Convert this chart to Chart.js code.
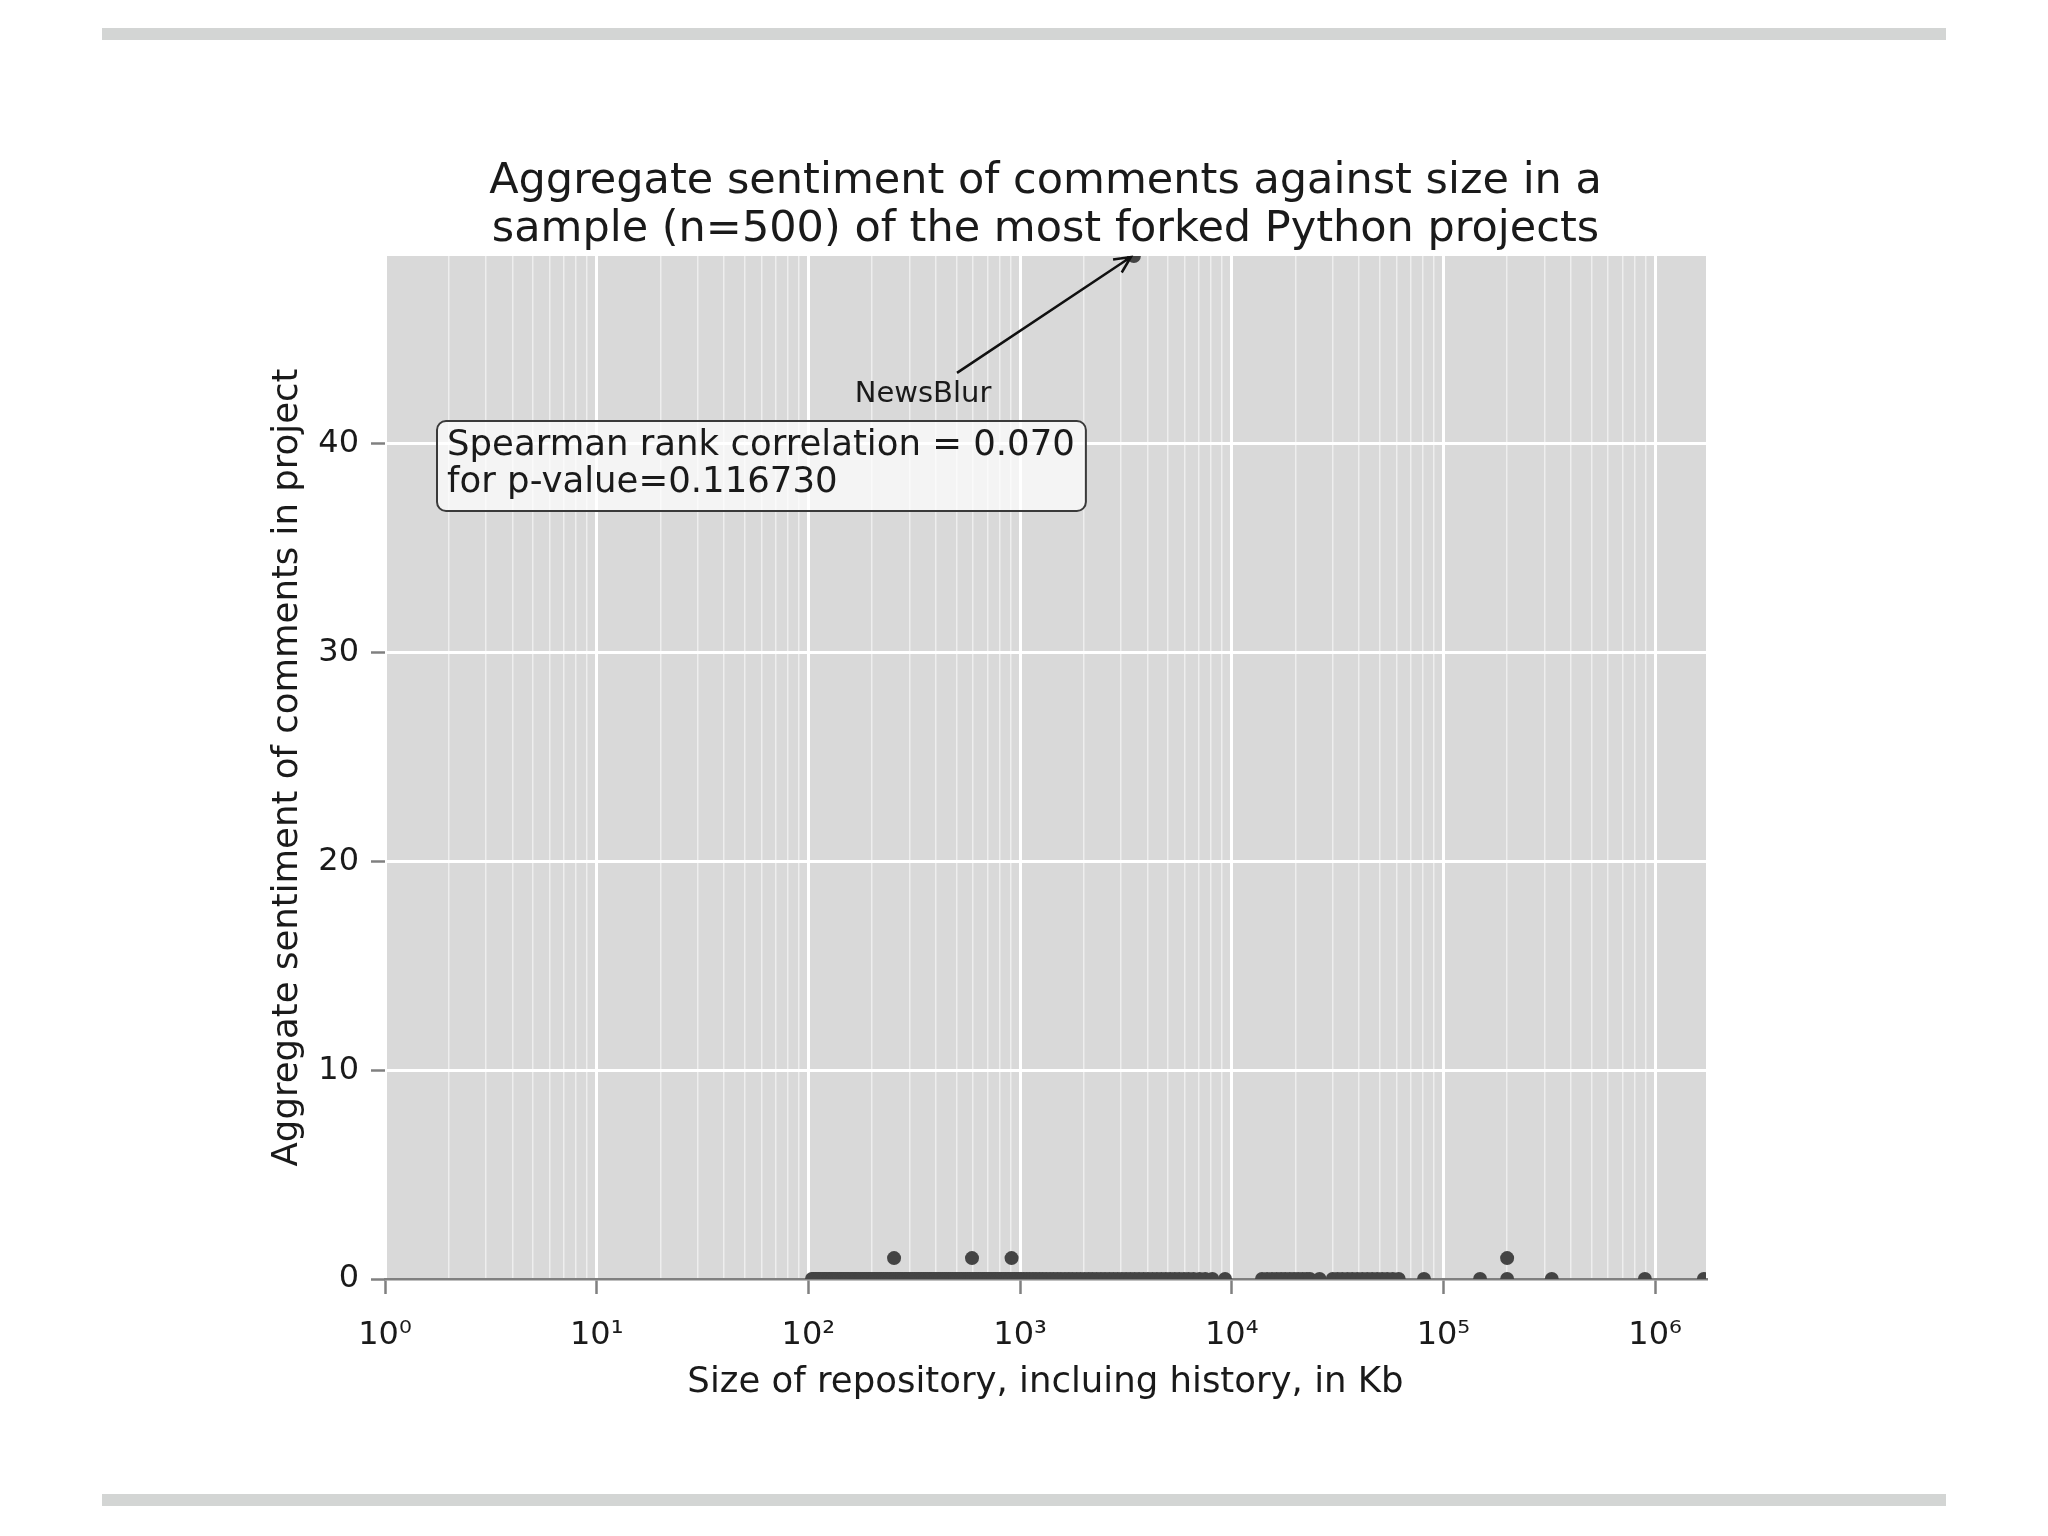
<!DOCTYPE html>
<html><head><meta charset="utf-8">
<script src="https://cdn.jsdelivr.net/npm/chart.js@4.4.0/dist/chart.umd.min.js"></script>
<style>
html,body{margin:0;padding:0;background:#fff;}
#wrap{position:relative;width:2048px;height:1536px;overflow:hidden;}
.bar{position:absolute;left:102px;width:1844px;height:12px;background:#d3d5d4;}
canvas{position:absolute;left:0;top:0;}
</style></head><body>
<div id="wrap">
<div class="bar" style="top:28px"></div>
<div class="bar" style="top:1494px"></div>
<canvas id="c" width="2048" height="1536"></canvas>
</div>
<script>
// ---------- text ----------
const titleLines = ['Aggregate sentiment of comments against size in a', 'sample (n=500) of the most forked Python projects'];
const xAxisLabel = 'Size of repository, incluing history, in Kb';
const yAxisLabel = 'Aggregate sentiment of comments in project';
const statsLines = ['Spearman rank correlation = 0.070', 'for p-value=0.116730'];

// ---------- ticks ----------
const xMajorTicks = [1, 10, 100, 1000, 10000, 100000, 1000000];
const xTickLabels = ['10\u2070', '10\u00B9', '10\u00B2', '10\u00B3', '10\u2074', '10\u2075', '10\u2076'];
const yTicks = [0, 10, 20, 30, 40];

// ---------- data (size in Kb) ----------
const outlierName = 'NewsBlur';
const outlierSize = [3450];
const outlierSentiment = [49];
const outlierLabelPos = [348, 42.35];

const sizesSentimentOne = [254, 593, 912, 200000];

const sizesSentimentZero = [
  104, 106, 108, 110, 112, 114, 117, 119, 121, 124, 126, 129, 131, 134, 137, 140, 143, 146, 149, 152,
  155, 159, 162, 166, 169, 173, 177, 181, 185, 189, 193, 197, 202, 206, 211, 216, 221, 226, 231, 236,
  242, 247, 253, 259, 265, 271, 277, 284, 290, 297, 304, 311, 318, 326, 333, 341, 349, 357, 365, 374,
  382, 391, 400, 410, 419, 429, 439, 449, 460, 470, 481, 493, 504, 516, 528, 540, 553, 566, 579, 592,
  606, 620, 635, 649, 665, 680, 696, 712, 729, 746, 763, 781, 799, 818, 837, 856, 876, 897, 918, 939,
  961, 984, 1010, 1040, 1075, 1110, 1150, 1190, 1235, 1280, 1330, 1385, 1440, 1500, 1560, 1630, 1700,
  1770, 1850, 1930, 2020, 2110, 2200, 2300, 2410, 2520, 2640, 2760, 2890, 3030, 3170, 3320, 3480, 3650,
  3830, 4020, 4220, 4430, 4650, 4880, 5120, 5380, 5650, 5950, 6250, 6600, 7050, 7500, 8100, 9300,
  13900, 14700, 15500, 16300, 17100, 17900, 18800, 19700, 20600, 21600, 22600, 23400,
  26000, 30000, 31600, 33300, 35200, 37100, 39200, 41400, 43700, 46100, 48700, 51400, 54300, 57600, 61500,
  81000, 149000, 200000, 325000, 895000, 1700000
];

const pointData = []
  .concat(sizesSentimentZero.map(s => ({ x: s, y: 0 })))
  .concat(sizesSentimentOne.map(s => ({ x: s, y: 1 })))
  .concat(outlierSize.map((s, i) => ({ x: s, y: outlierSentiment[i] })));

const FONT = "'DejaVu Sans', sans-serif";
const isMajor = v => xMajorTicks.indexOf(v) !== -1;

const decorPlugin = {
  id: 'decor',
  beforeDraw(chart) {
    const { ctx, chartArea: a } = chart;
    ctx.save();
    ctx.fillStyle = '#d9d9d9';
    ctx.fillRect(a.left, a.top, a.right - a.left, a.bottom - a.top);
    ctx.restore();
  },
  afterDraw(chart) {
    const { ctx, chartArea: a, scales } = chart;
    ctx.save();
    // title
    ctx.fillStyle = '#1a1a1a';
    ctx.font = '43px ' + FONT;
    ctx.textAlign = 'center';
    ctx.textBaseline = 'middle';
    const cx = (a.left + a.right) / 2;
    ctx.fillText(titleLines[0], cx, 182);
    ctx.fillText(titleLines[1], cx, 230);

    // stats box
    ctx.font = '35.5px ' + FONT;
    const w = Math.max(...statsLines.map(s => ctx.measureText(s).width));
    const bx = a.left + 52, by = a.top + 165, bw = w + 21, bh = 90;
    ctx.beginPath();
    ctx.roundRect(bx, by, bw, bh, 9);
    ctx.fillStyle = 'rgba(255,255,255,0.7)';
    ctx.fill();
    ctx.lineWidth = 2;
    ctx.strokeStyle = '#3a3a3a';
    ctx.stroke();
    ctx.fillStyle = '#1a1a1a';
    ctx.textAlign = 'left';
    ctx.fillText(statsLines[0], bx + 10, by + 25);
    ctx.fillText(statsLines[1], bx + 10, by + 62);

    // outlier annotation
    const tx = scales.x.getPixelForValue(outlierLabelPos[0]);
    const ty = scales.y.getPixelForValue(outlierLabelPos[1]);
    ctx.font = '29px ' + FONT;
    ctx.textAlign = 'center';
    ctx.fillText(outlierName, tx, ty);
    const px = scales.x.getPixelForValue(outlierSize[0]) - 3;
    const py = scales.y.getPixelForValue(outlierSentiment[0]) + 1;
    const sx = tx + 34, sy = ty - 22;
    ctx.strokeStyle = '#111';
    ctx.lineWidth = 2.5;
    ctx.beginPath();
    ctx.moveTo(sx, sy);
    ctx.lineTo(px, py);
    const ang = Math.atan2(py - sy, px - sx);
    const L = 18, sp = 0.45;
    ctx.moveTo(px - L * Math.cos(ang - sp), py - L * Math.sin(ang - sp));
    ctx.lineTo(px, py);
    ctx.lineTo(px - L * Math.cos(ang + sp), py - L * Math.sin(ang + sp));
    ctx.stroke();
    ctx.restore();
  }
};

new Chart(document.getElementById('c'), {
  type: 'scatter',
  data: {
    datasets: [{
      data: pointData,
      backgroundColor: '#444444',
      borderColor: '#444444',
      borderWidth: 0,
      pointRadius: 7,
      pointHoverRadius: 7,
      clip: 0
    }]
  },
  plugins: [decorPlugin],
  options: {
    responsive: false,
    devicePixelRatio: 1,
    animation: false,
    events: [],
    layout: { padding: { top: 256, right: 342, left: 0, bottom: 0 } },
    plugins: { legend: { display: false }, tooltip: { enabled: false }, title: { display: false } },
    scales: {
      x: {
        type: 'logarithmic',
        min: 1,
        max: 1740000,
        afterFit: s => { s.height = 257; },
        afterBuildTicks: s => {
          const t = [];
          xMajorTicks.forEach(m => {
            for (let k = 1; k <= 9; k++) {
              const v = m * k;
              if (v >= s.min && v <= s.max) t.push({ value: v });
            }
          });
          s.ticks = t;
        },
        ticks: {
          autoSkip: false,
          maxRotation: 0,
          padding: 22,
          color: '#1a1a1a',
          font: { family: FONT, size: 32 },
          callback: v => isMajor(v) ? xTickLabels[xMajorTicks.indexOf(v)] : ''
        },
        grid: {
          color: c => isMajor(c.tick.value) ? '#ffffff' : 'rgba(255,255,255,0.55)',
          lineWidth: c => isMajor(c.tick.value) ? 3 : 1.5,
          tickColor: c => isMajor(c.tick.value) ? '#808080' : 'rgba(0,0,0,0)',
          tickLength: 15,
          tickWidth: 2.5
        },
        border: { display: true, color: '#808080', width: 2.5 },
        title: {
          display: true,
          text: xAxisLabel,
          color: '#1a1a1a',
          font: { family: FONT, size: 35.5 },
          padding: { top: 0, bottom: 132 }
        }
      },
      y: {
        type: 'linear',
        min: 0,
        max: 49,
        afterFit: s => { s.width = 385; },
        afterBuildTicks: s => { s.ticks = yTicks.map(v => ({ value: v })); },
        ticks: {
          padding: 12,
          color: '#1a1a1a',
          font: { family: FONT, size: 32 }
        },
        grid: {
          color: c => c.tick && c.tick.value === 0 ? 'rgba(0,0,0,0)' : '#ffffff',
          lineWidth: 3,
          tickColor: '#808080',
          tickLength: 14,
          tickWidth: 2.5
        },
        border: { display: false },
        title: {
          display: true,
          text: yAxisLabel,
          color: '#1a1a1a',
          font: { family: FONT, size: 35.5 },
          padding: { top: 266, bottom: 0 }
        }
      }
    }
  }
});
</script>
</body></html>
